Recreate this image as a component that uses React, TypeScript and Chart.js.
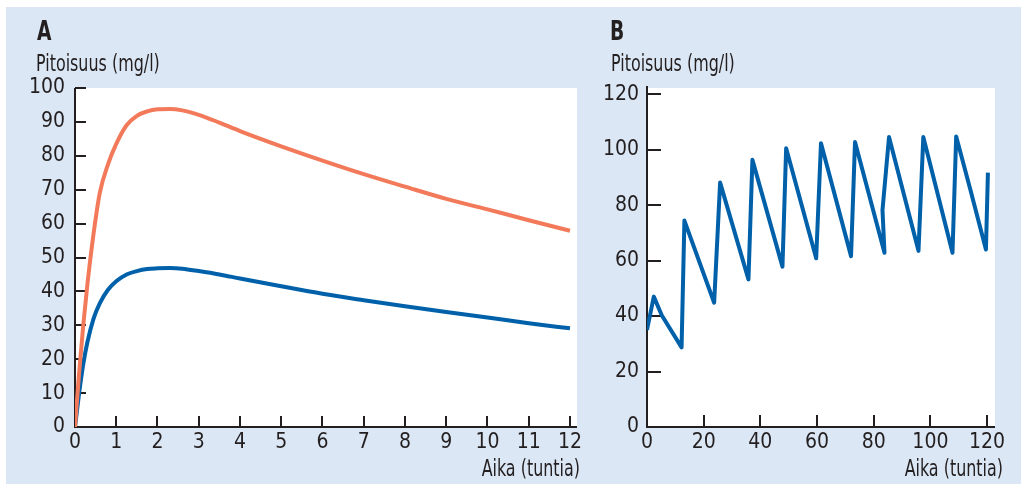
import React, { useEffect, useRef } from "react";
import { Chart, registerables } from "chart.js";

Chart.register(...registerables);

// ---- Panel A data (single dose, two dose sizes) ----
const hoursA = [0, 0.1, 0.2, 0.3, 0.45, 0.6, 0.8, 1, 1.25, 1.5, 1.75, 2, 2.3, 2.6, 3, 3.5, 4, 5, 6, 7, 8, 9, 10, 11, 12];
const concHighDose = [0, 16, 30, 42, 57, 69, 77.5, 83.5, 89, 91.8, 93.1, 93.7, 93.8, 93.4, 92.1, 89.8, 87.3, 82.8, 78.6, 74.6, 70.9, 67.3, 64.2, 61.0, 57.9];
const concLowDose = [0, 10, 18.5, 25, 32, 36.5, 40.5, 43, 45, 46, 46.6, 46.8, 46.9, 46.7, 46, 45, 43.8, 41.5, 39.3, 37.4, 35.6, 33.9, 32.3, 30.6, 29.1];
const xTicksA = [0, 1, 2, 3, 4, 5, 6, 7, 8, 9, 10, 11, 12];
const yTicksA = [0, 10, 20, 30, 40, 50, 60, 70, 80, 90, 100];

// ---- Panel B data (repeated dosing) ----
const hoursB = [0, 2.4, 5.2, 12.2, 13.2, 23.7, 25.8, 35.8, 37.2, 47.8, 49.1, 59.7, 61.4, 72, 73.4, 83.8, 83.1, 85.4, 95.8, 97.5, 107.8, 109.1, 114, 119.6, 120.3];
const concRepeated = [35, 47, 40.3, 28.7, 74.4, 44.8, 88.1, 53.2, 96.3, 57.8, 100.5, 60.8, 102.3, 61.6, 102.7, 62.8, 78.2, 104.5, 63.5, 104.5, 62.8, 104.7, 86, 64, 91.7];
const xTicksB = [0, 20, 40, 60, 80, 100, 120];
const yTicksB = [0, 20, 40, 60, 80, 100, 120];

const TEXT = "#231f20";
const BG = "#dbe7f4";
const ORANGE = "#f27a5a";
const BLUE = "#0061aa";
const FONT = '"Liberation Sans Narrow", "DejaVu Sans Condensed", "Noto Sans", sans-serif';
const SQUEEZE = 0.77;

type Deco = {
  letter: string;
  letterX: number;
  yTitle: string;
  yTitleX: number;
  xTitle: string;
  xTitleRight: number;
  tickLenY: number;
  tickLenX: number;
  axisTopExtra: number;
};

function condensedText(ctx: CanvasRenderingContext2D, text: string, x: number, y: number, align: "left" | "right") {
  ctx.save();
  ctx.translate(x, y);
  ctx.scale(SQUEEZE, 1);
  ctx.textAlign = align;
  ctx.fillText(text, 0, 0);
  ctx.restore();
}

function decoPlugin(d: Deco) {
  return {
    id: "deco",
    beforeDraw(chart: any) {
      const { ctx, chartArea: a } = chart;
      ctx.save();
      ctx.fillStyle = "#ffffff";
      ctx.fillRect(a.left, a.top, a.right - a.left, a.bottom - a.top);
      ctx.restore();
    },
    beforeDatasetsDraw(chart: any) {
      const { ctx, chartArea: a } = chart;
      const xs = chart.scales.x;
      const ys = chart.scales.y;
      ctx.save();
      ctx.strokeStyle = TEXT;
      ctx.lineWidth = 2;
      ctx.lineCap = "butt";
      ctx.beginPath();
      ctx.moveTo(a.left, a.top - d.axisTopExtra);
      ctx.lineTo(a.left, a.bottom + 1);
      ctx.moveTo(a.left - 1, a.bottom);
      ctx.lineTo(a.right, a.bottom);
      for (const t of ys.ticks) {
        const p = Math.round(ys.getPixelForValue(t.value));
        ctx.moveTo(a.left, p);
        ctx.lineTo(a.left + d.tickLenY, p);
      }
      for (const t of xs.ticks) {
        const p = Math.round(xs.getPixelForValue(t.value));
        ctx.moveTo(p, a.bottom);
        ctx.lineTo(p, a.bottom - d.tickLenX);
      }
      ctx.stroke();
      ctx.restore();
    },
    afterDraw(chart: any) {
      const { ctx } = chart;
      ctx.save();
      ctx.fillStyle = TEXT;
      ctx.textBaseline = "alphabetic";
      ctx.font = `bold 27px ${FONT}`;
      condensedText(ctx, d.letter, d.letterX, 40, "left");
      ctx.font = `23px ${FONT}`;
      condensedText(ctx, d.yTitle, d.yTitleX, 71, "left");
      condensedText(ctx, d.xTitle, d.xTitleRight, 476, "right");
      ctx.restore();
    },
  };
}

function axisOpts(min: number, max: number, ticks: number[], size: { w?: number; h?: number }, padding: number) {
  return {
    type: "linear" as const,
    min,
    max,
    grid: { display: false, drawTicks: false },
    border: { display: false },
    afterBuildTicks: (s: any) => {
      s.ticks = ticks.map((v) => ({ value: v }));
    },
    afterFit: (s: any) => {
      if (size.w !== undefined) s.width = size.w;
      if (size.h !== undefined) s.height = size.h;
    },
    ticks: {
      padding,
      autoSkip: false,
      maxRotation: 0,
      color: TEXT,
      font: { family: FONT, size: 21 },
    },
  };
}

export default function App() {
  const refA = useRef<HTMLCanvasElement | null>(null);
  const refB = useRef<HTMLCanvasElement | null>(null);

  useEffect(() => {
    const chartA = new Chart(refA.current as HTMLCanvasElement, {
      type: "line",
      data: {
        datasets: [
          {
            data: hoursA.map((h, i) => ({ x: h, y: concHighDose[i] })),
            borderColor: ORANGE,
            borderWidth: 4,
            pointRadius: 0,
            cubicInterpolationMode: "monotone",
            fill: false,
          },
          {
            data: hoursA.map((h, i) => ({ x: h, y: concLowDose[i] })),
            borderColor: BLUE,
            borderWidth: 4,
            pointRadius: 0,
            cubicInterpolationMode: "monotone",
            fill: false,
          },
        ],
      },
      options: {
        animation: false,
        responsive: false,
        devicePixelRatio: 1,
        layout: { padding: { top: 88, right: 13, left: 0, bottom: 0 } },
        plugins: { legend: { display: false }, tooltip: { enabled: false } },
        scales: {
          x: axisOpts(0, 12.17, xTicksA, { h: 57 }, 3),
          y: axisOpts(0, 100, yTicksA, { w: 75 }, 10),
        },
      } as any,
      plugins: [
        decoPlugin({
          letter: "A",
          letterX: 37,
          yTitle: "Pitoisuus (mg/l)",
          yTitleX: 36,
          xTitle: "Aika (tuntia)",
          xTitleRight: 580,
          tickLenY: 11,
          tickLenX: 11,
          axisTopExtra: 0,
        }),
      ],
    });

    const chartB = new Chart(refB.current as HTMLCanvasElement, {
      type: "line",
      data: {
        datasets: [
          {
            data: hoursB.map((h, i) => ({ x: h, y: concRepeated[i] })),
            borderColor: BLUE,
            borderWidth: 4,
            borderJoinStyle: "round",
            pointRadius: 0,
            tension: 0,
            fill: false,
          },
        ],
      },
      options: {
        animation: false,
        responsive: false,
        devicePixelRatio: 1,
        layout: { padding: { top: 88, right: 26, left: 0, bottom: 0 } },
        plugins: { legend: { display: false }, tooltip: { enabled: false } },
        scales: {
          x: axisOpts(0, 122.8, xTicksB, { h: 57 }, 3),
          y: axisOpts(0, 122.2, yTicksB, { w: 57 }, 8),
        },
      } as any,
      plugins: [
        decoPlugin({
          letter: "B",
          letterX: 20,
          yTitle: "Pitoisuus (mg/l)",
          yTitleX: 21,
          xTitle: "Aika (tuntia)",
          xTitleRight: 413,
          tickLenY: 14,
          tickLenX: 12,
          axisTopExtra: 2,
        }),
      ],
    });

    return () => {
      chartA.destroy();
      chartB.destroy();
    };
  }, []);

  return (
    <div
      style={{
        position: "fixed",
        left: 0,
        top: 0,
        width: 1021,
        height: 484,
        background: "#ffffff",
        overflow: "hidden",
      }}
    >
      <div style={{ position: "absolute", left: 6, top: 7, right: 0, bottom: 0, background: BG }} />
      <canvas
        ref={refA}
        width={590}
        height={484}
        style={{ position: "absolute", left: 0, top: 0, width: 590, height: 484 }}
      />
      <canvas
        ref={refB}
        width={431}
        height={484}
        style={{ position: "absolute", left: 590, top: 0, width: 431, height: 484 }}
      />
    </div>
  );
}
